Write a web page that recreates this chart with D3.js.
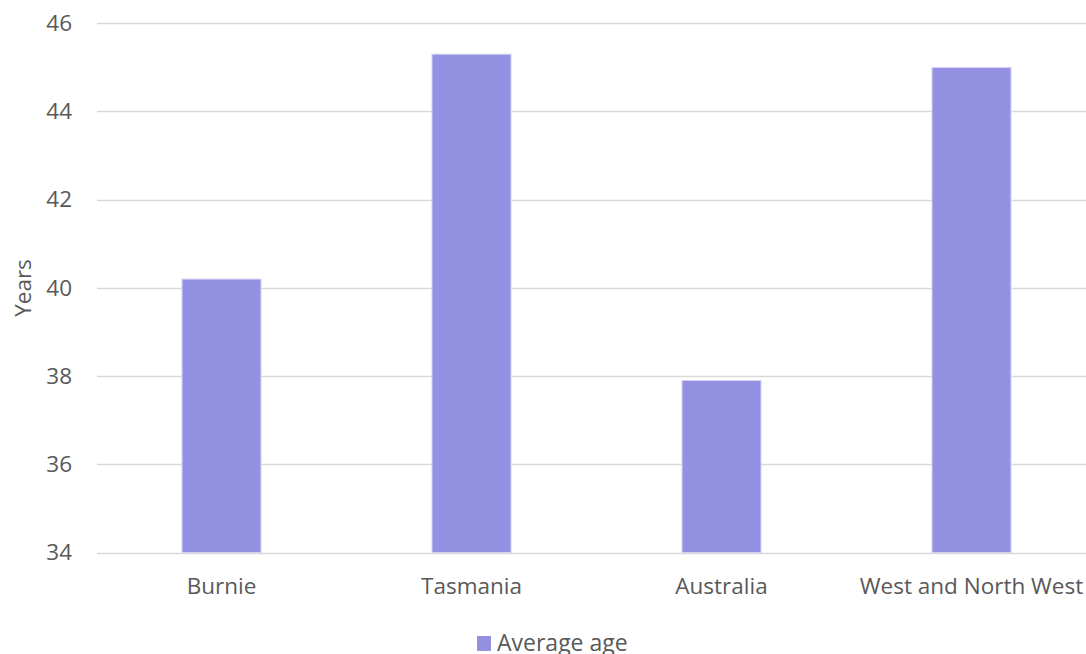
<!DOCTYPE html>
<html>
<head>
<meta charset="utf-8">
<script src="https://cdn.jsdelivr.net/npm/d3@7"></script>
<style>
  html, body { margin: 0; padding: 0; background: #ffffff; }
  svg text { font-family: "Open Sans", "Noto Sans", sans-serif; fill: #595959; }
</style>
</head>
<body>
<svg id="chart" width="1086" height="654"></svg>
<script>
// Average age by region
const categories = ["Burnie", "Tasmania", "Australia", "West and North West"];
const averageAge = [40.2, 45.3, 37.9, 45.0];
const yTicks = [34, 36, 38, 40, 42, 44, 46];
const seriesName = "Average age";
const yTitle = "Years";

const svg = d3.select("#chart");
const barColor = "#9591e2";
const fontSize = 22.5;

const x = d3.scaleBand()
  .domain(categories)
  .range([97, 1096])
  .paddingInner(0.684)
  .paddingOuter(0.34);

const y = d3.scaleLinear()
  .domain([34, 46])
  .range([552.5, 23.3]);

// horizontal gridlines
svg.append("g")
  .selectAll("line")
  .data(yTicks)
  .join("line")
  .attr("x1", 97)
  .attr("x2", 1086)
  .attr("y1", d => Math.round(y(d)) + 0.5)
  .attr("y2", d => Math.round(y(d)) + 0.5)
  .attr("stroke", "#d9d9d9")
  .attr("stroke-width", 1.3);

// y axis tick labels
const yAxis = svg.append("g")
  .attr("transform", "translate(72,0)")
  .call(d3.axisLeft(y).tickValues(yTicks).tickSize(0).tickPadding(0).tickFormat(d3.format("d")));
yAxis.select(".domain").remove();
yAxis.selectAll("text")
  .attr("font-size", fontSize)
  .attr("font-family", "Open Sans, Noto Sans, sans-serif")
  .attr("fill", "#595959");

// bars
svg.append("g")
  .selectAll("rect")
  .data(categories.map((c, i) => ({ c, v: averageAge[i] })))
  .join("rect")
  .attr("x", d => x(d.c))
  .attr("y", d => y(d.v))
  .attr("width", x.bandwidth())
  .attr("height", d => y(34) - y(d.v))
  .attr("fill", barColor)
  .attr("stroke", "#d4d2f4")
  .attr("stroke-width", 1);

// x axis category labels
const xAxis = svg.append("g")
  .attr("transform", "translate(0,594)")
  .call(d3.axisBottom(x).tickSize(0).tickPadding(0));
xAxis.select(".domain").remove();
xAxis.selectAll("text")
  .attr("dy", 0)
  .attr("font-size", fontSize)
  .attr("font-family", "Open Sans, Noto Sans, sans-serif")
  .attr("fill", "#595959");

// y axis title
svg.append("text")
  .attr("transform", "translate(31,288) rotate(-90)")
  .attr("text-anchor", "middle")
  .attr("font-size", fontSize)
  .text(yTitle);

// legend
const legend = svg.append("g").attr("transform", "translate(477,636)");
legend.append("rect")
  .attr("width", 14)
  .attr("height", 15)
  .attr("fill", barColor);
legend.append("text")
  .attr("x", 20)
  .attr("y", 14.5)
  .attr("font-size", 23)
  .text(seriesName);
</script>
</body>
</html>
